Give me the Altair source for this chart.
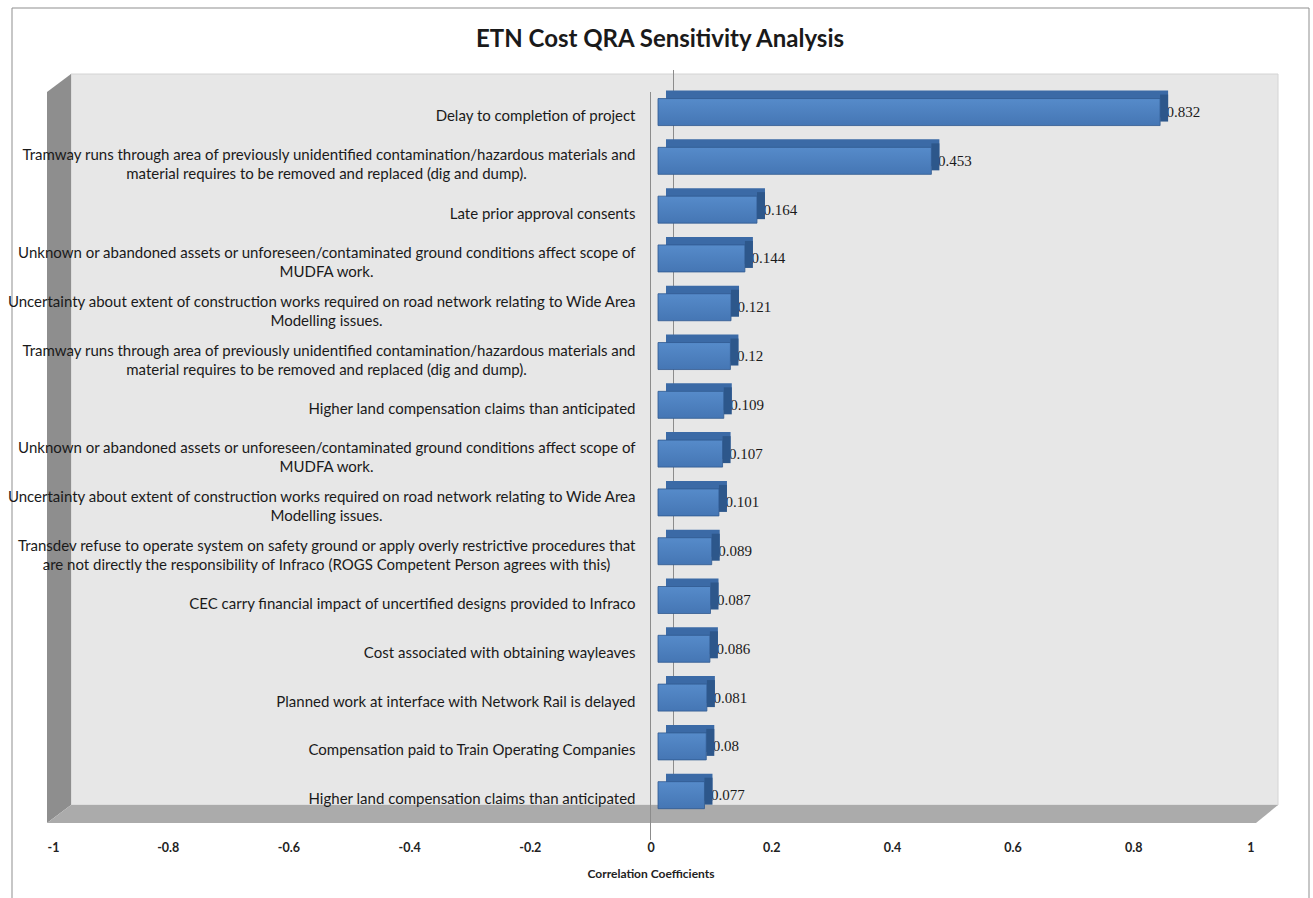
import altair as alt
import pandas as pd

# ---------------- data ----------------
line1 = [
    "Delay to completion of project",
    "Tramway runs through area of previously unidentified  contamination/hazardous  materials and",
    "Late prior approval consents",
    "Unknown or abandoned  assets or unforeseen/contaminated  ground conditions  affect scope of",
    "Uncertainty about extent of construction works required  on road network relating  to Wide Area",
    "Tramway runs through area of previously unidentified  contamination/hazardous  materials and",
    "Higher land compensation claims than anticipated",
    "Unknown or abandoned  assets or unforeseen/contaminated  ground conditions  affect scope of",
    "Uncertainty about extent of construction works required  on road network relating  to Wide Area",
    "Transdev refuse to operate system on safety ground or apply overly restrictive procedures  that",
    "CEC carry financial impact of uncertified  designs provided  to Infraco",
    "Cost associated with obtaining wayleaves",
    "Planned work at interface with Network Rail is delayed",
    "Compensation paid  to Train Operating Companies",
    "Higher land compensation claims than anticipated",
]
line2 = [
    "",
    "material requires  to be removed and replaced (dig and dump).",
    "",
    "MUDFA work.",
    "Modelling issues.",
    "material requires  to be removed and replaced (dig and dump).",
    "",
    "MUDFA work.",
    "Modelling issues.",
    "are not directly  the responsibility  of Infraco (ROGS Competent  Person agrees with this)",
    "",
    "",
    "",
    "",
    "",
]
values = [0.832, 0.453, 0.164, 0.144, 0.121, 0.12, 0.109, 0.107, 0.101,
          0.089, 0.087, 0.086, 0.081, 0.08, 0.077]
value_labels = ["0.832", "0.453", "0.164", "0.144", "0.121", "0.12", "0.109", "0.107",
                "0.101", "0.089", "0.087", "0.086", "0.081", "0.08", "0.077"]
x_ticks = [-1, -0.8, -0.6, -0.4, -0.2, 0, 0.2, 0.4, 0.6, 0.8, 1]
title_text = "ETN Cost QRA Sensitivity Analysis"

df = pd.DataFrame({
    "rank": list(range(1, len(values) + 1)),
    "line1": line1,
    "line2": line2,
    "value": values,
    "vlabel": value_labels,
})

# ---------------- geometry (pixels) ----------------
W = 1207   # plot width: x = -1 .. 1
H = 749    # plot height
one = alt.Data(values=[{}])

xscale = alt.Scale(domain=[-1, 1], nice=False, zero=False)
yscale = alt.Scale(paddingInner=0, paddingOuter=0.175, align=0.8)

X = alt.X("value:Q", scale=xscale,
          axis=alt.Axis(values=x_ticks, title="Correlation Coefficients",
                        labelExpr="datum.value == 0 ? '0' : (datum.value < 0 ? '-' : '') + format(abs(datum.value), '')",
                        domain=False, ticks=False, grid=False, zindex=2,
                        labelFont="Lato", labelFontSize=12.5, labelFontWeight="bold",
                        labelColor="#222222", labelPadding=18,
                        titleFont="Lato", titleFontSize=12, titleFontWeight="bold",
                        titleColor="#222222", titlePadding=15))
Y = alt.Y("rank:O", scale=yscale, axis=None)

# ---------------- decoration ----------------
border = alt.Chart(one).mark_rect(fill="transparent", stroke="#8f8f8f", strokeWidth=1).encode(
    x=alt.value(-35), x2=alt.value(1262), y=alt.value(-66), y2=alt.value(840))

back_wall = alt.Chart(one).mark_rect(fill="#e7e7e7", stroke="#d4d4d4", strokeWidth=1).encode(
    x=alt.value(24), x2=alt.value(1231), y=alt.value(0), y2=alt.value(731))

left_wall = alt.Chart(one).mark_point(
    shape="M0,18 L24,0 L24,731 L0,749 Z", size=4, filled=True, opacity=1,
    fill="#8e8e8e", strokeWidth=0).encode(x=alt.value(0), y=alt.value(0))

floor = alt.Chart(one).mark_point(
    shape="M0,749 L24,731 L1231,731 L1209,749 Z", size=4, filled=True, opacity=1,
    fill="#ababab", strokeWidth=0).encode(x=alt.value(0), y=alt.value(0))

back_zero = alt.Chart(one).mark_rule(color="#8c8c8c", strokeWidth=1, xOffset=23).encode(
    x=alt.datum(0, scale=xscale), y=alt.value(-4), y2=alt.value(731))

front_zero = alt.Chart(one).mark_rule(color="#8c8c8c", strokeWidth=1).encode(
    x=alt.datum(0, scale=xscale), y=alt.value(18), y2=alt.value(766))

title = alt.Chart(one).mark_text(
    text=title_text, font="Lato", fontSize=24, fontWeight="bold", color="#1a1a1a",
    align="center", baseline="alphabetic").encode(
    x=alt.value(613), y=alt.value(-27))

# ---------------- data marks ----------------
base = alt.Chart(df)

vals = base.mark_text(align="left", baseline="middle", dx=14, font="Liberation Serif",
                      fontSize=15, color="#1a1a1a").encode(
    x=X, y=Y, text="vlabel:N")

# top face of the 3-D bar (shifted block)
bar_top = base.mark_bar(height=27, xOffset=15.5, x2Offset=15.5, yOffset=-8,
                        color="#3b6aa6").encode(x=X, x2=alt.datum(0), y=Y)

# right side face of the 3-D bar
bar_side = base.mark_bar(height=27, xOffset=7.5, x2Offset=15.5, yOffset=-4,
                         color="#2d578b").encode(x=X, x2=alt.X2("value"), y=Y)

bar_front = base.mark_bar(
    height=27, xOffset=7.5, x2Offset=7.5,
    color=alt.LinearGradient(gradient="linear",
                             stops=[alt.GradientStop(color="#568bca", offset=0),
                                    alt.GradientStop(color="#4576b4", offset=1)],
                             x1=0, x2=0, y1=0, y2=1),
    stroke="#30598f", strokeWidth=0.8).encode(x=X, x2=alt.datum(0), y=Y)

lbl_kw = dict(font="Lato", fontSize=15, color="#1a1a1a", baseline="middle")

single = base.transform_filter("datum.line2 == ''").mark_text(
    align="right", dx=-15, dy=4, **lbl_kw).encode(
    x=alt.datum(0, scale=xscale), y=Y, text="line1:N")

first = base.transform_filter("datum.line2 != ''").mark_text(
    align="right", dx=-15, dy=-5.5, **lbl_kw).encode(
    x=alt.datum(0, scale=xscale), y=Y, text="line1:N")

second = base.transform_filter("datum.line2 != ''").mark_text(
    align="center", dx=-324, dy=13.5, **lbl_kw).encode(
    x=alt.datum(0, scale=xscale), y=Y, text="line2:N")

chart = alt.layer(
    border, back_wall, left_wall, floor, back_zero, front_zero, title,
    vals, bar_top, bar_side, bar_front, single, first, second
).resolve_scale(x="shared", y="shared").properties(
    width=W, height=H,
    autosize=alt.AutoSizeParams(type="none"),
    padding={"left": 47, "top": 74, "right": 59, "bottom": 75},
    background="white",
).configure_view(stroke=None)

chart.save("out.html", embed_options={"renderer": "svg", "actions": False})
